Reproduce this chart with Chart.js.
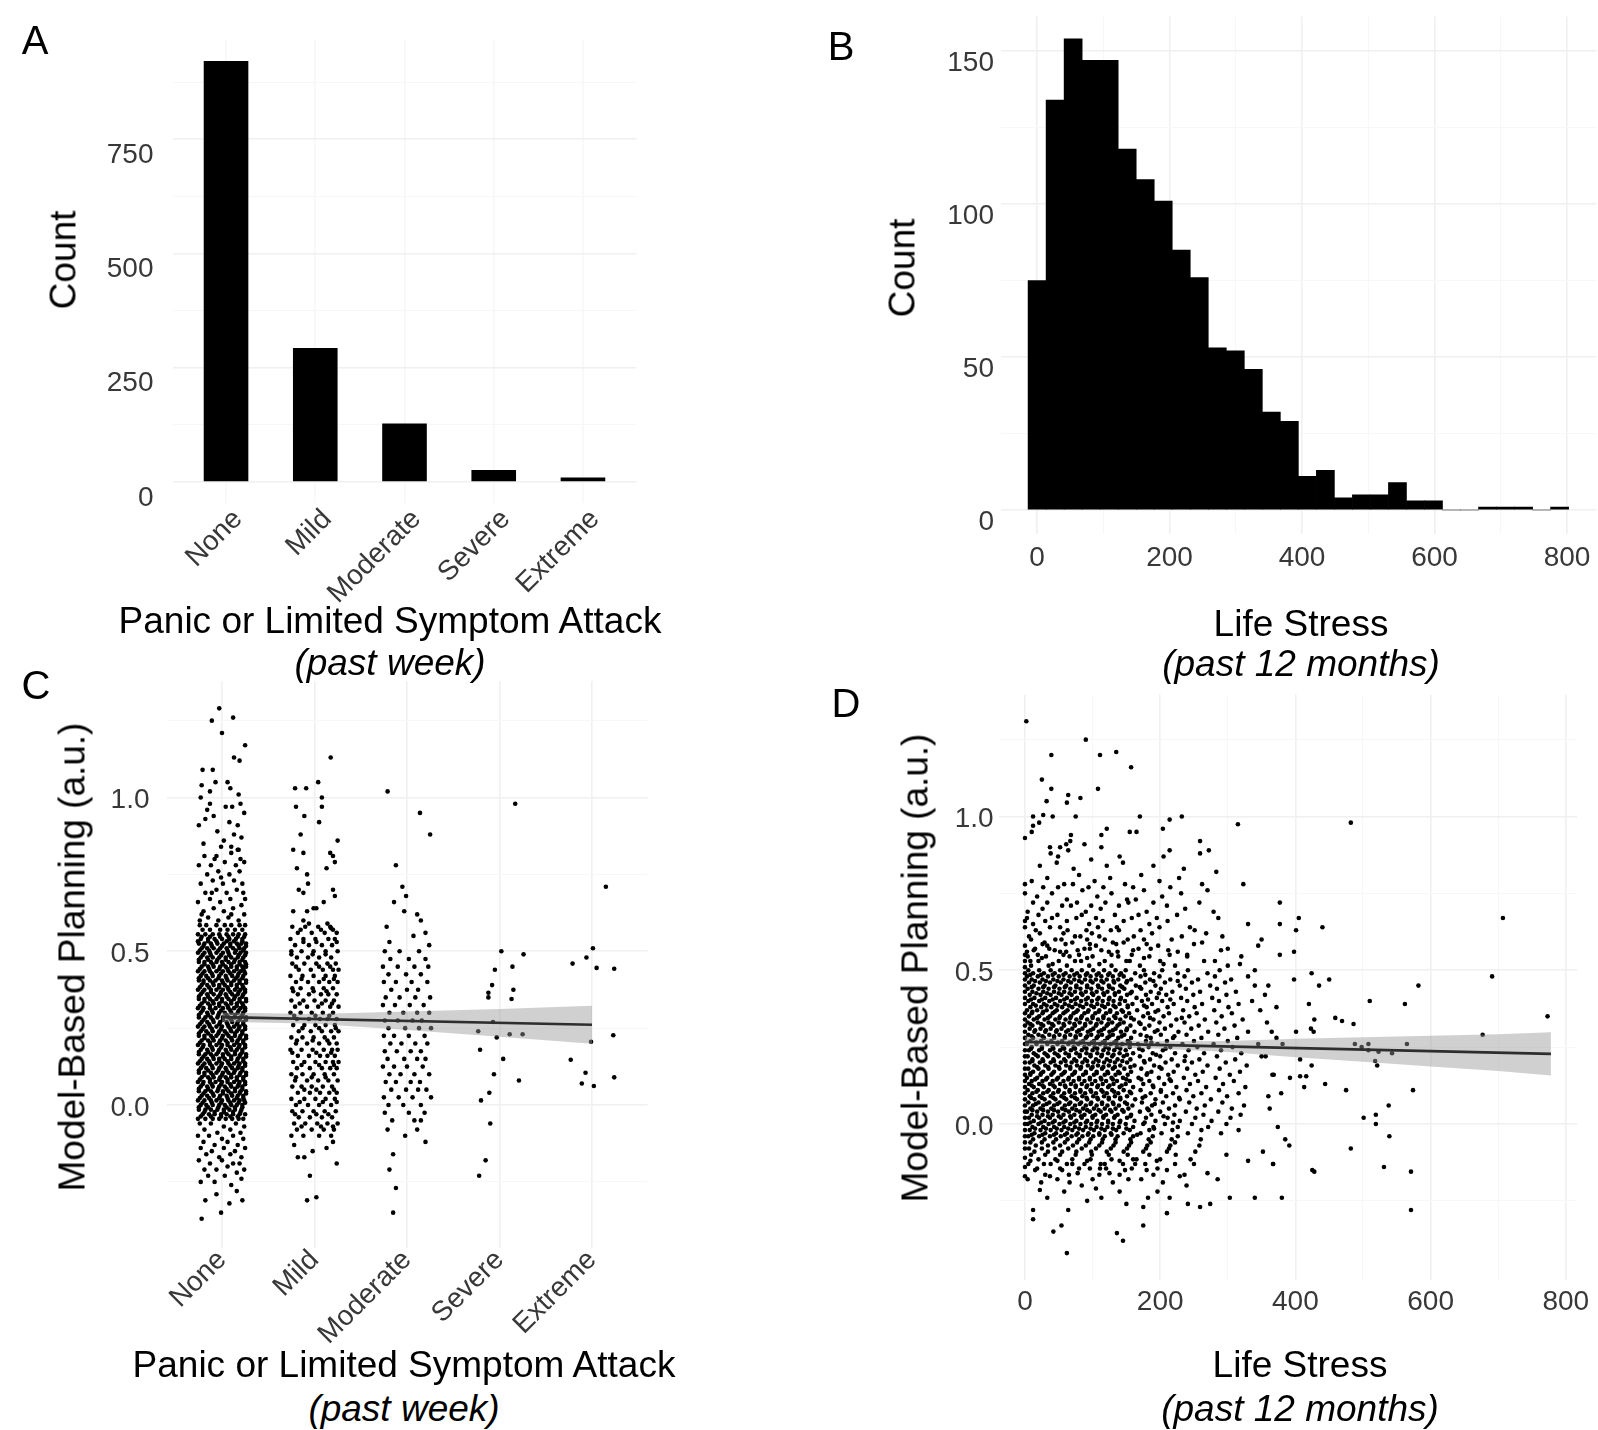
<!DOCTYPE html>
<html>
<head>
<meta charset="utf-8">
<title>Panic attacks, life stress and model-based planning</title>
<script src="https://cdn.jsdelivr.net/npm/chart.js@4.4.1/dist/chart.umd.min.js"></script>
<style>
  html, body { margin: 0; padding: 0; background: #fff; }
  #fig { position: relative; width: 1598px; height: 1430px; overflow: hidden; background: #fff;
         font-family: 'Liberation Sans', Arial, Helvetica, sans-serif; color: #000; }
  #fig canvas { position: absolute; }
  .t { position: absolute; white-space: nowrap; line-height: 1; transform: translate(-50%, -50%); }
  .letter { font-size: 40px; }
  .axis { font-size: 37px; }
  .axis.it { font-style: italic; }
  .rot { transform: translate(-50%, -50%) rotate(-90deg); }
</style>
</head>
<body>
<div id="fig">
  <canvas id="panelA" width="660" height="620" style="left:0px;top:0px"></canvas>
  <canvas id="panelB" width="798" height="620" style="left:800px;top:0px"></canvas>
  <canvas id="panelC" width="660" height="700" style="left:0px;top:660px"></canvas>
  <canvas id="panelD" width="798" height="700" style="left:800px;top:660px"></canvas>

  <div class="t letter" style="left:35px;top:40px">A</div>
  <div class="t letter" style="left:841px;top:46px">B</div>
  <div class="t letter" style="left:36px;top:685px">C</div>
  <div class="t letter" style="left:846px;top:703px">D</div>

  <div class="t axis rot" style="left:63px;top:260px">Count</div>
  <div class="t axis rot" style="left:902px;top:268px">Count</div>
  <div class="t axis rot" style="left:72px;top:957px">Model-Based Planning (a.u.)</div>
  <div class="t axis rot" style="left:915px;top:968px">Model-Based Planning (a.u.)</div>

  <div class="t axis" style="left:390px;top:620px">Panic or Limited Symptom Attack</div>
  <div class="t axis it" style="left:390px;top:662px">(past week)</div>
  <div class="t axis" style="left:1301px;top:623px">Life Stress</div>
  <div class="t axis it" style="left:1301px;top:663px">(past 12 months)</div>
  <div class="t axis" style="left:404px;top:1364px">Panic or Limited Symptom Attack</div>
  <div class="t axis it" style="left:404px;top:1408px">(past week)</div>
  <div class="t axis" style="left:1300px;top:1364px">Life Stress</div>
  <div class="t axis it" style="left:1300px;top:1408px">(past 12 months)</div>
</div>

<script>
// ---------- Panel A: panic or limited symptom attack (past week) ----------
const panicLevels = ['None', 'Mild', 'Moderate', 'Severe', 'Extreme'];
const panicCounts = [921, 293, 128, 26, 10];

// ---------- Panel B: life stress histogram (30 bins) ----------
const stressBinMids = [0, 27.2, 54.4, 81.6, 108.8, 136, 163.2, 190.4, 217.6, 244.8,
  272, 299.2, 326.4, 353.6, 380.8, 408, 435.2, 462.4, 489.6, 516.8,
  544, 571.2, 598.4, 625.6, 652.8, 680, 707.2, 734.4, 761.6, 788.8];
const stressCounts = [75, 134, 154, 147, 147, 118, 108, 101, 85, 76,
  53, 52, 46, 32, 29, 11, 13, 4, 5, 5,
  9, 3, 3, 0, 0, 1, 1, 1, 0, 1];

// ---------- Panel C: planning by panic level ----------
// dense parts are kept as rows: [planning score, [horizontal jitter of each point]]
// sparse parts as [jitter, planning score]
const noneRows = [
  [.585, [-.24,-.17,-.06,.03,.10,.19,.25]],
  [.57, [-.21,-.13,-.02,.06,.14,.22]],
  [.555, [-.26,-.18,-.10,-.03,.05,.12,.18,.25]],
  [.54, [-.23,-.15,-.08,0,.08,.15,.22]],
  [.525, [-.25,-.19,-.12,-.05,.02,.09,.16,.21,.26]],
  [.51, [-.22,-.16,-.09,-.02,.05,.12,.19,.24]],
  [.495, [-.26,-.19,-.13,-.06,.01,.07,.14,.20,.26]],
  [.48, [-.23,-.16,-.10,-.03,.04,.10,.17,.23]],
  [.465, [-.25,-.19,-.12,-.06,0,.07,.13,.19,.25]],
  [.45, [-.22,-.15,-.09,-.02,.04,.10,.16,.22,.26]],
  [.435, [-.26,-.19,-.13,-.06,.01,.07,.13,.20,.24]],
  [.42, [-.23,-.17,-.10,-.03,.04,.11,.17,.23]],
  [.405, [-.25,-.20,-.13,-.07,0,.06,.13,.19,.26]],
  [.39, [-.22,-.16,-.09,-.03,.03,.10,.16,.22]],
  [.375, [-.26,-.19,-.12,-.06,.01,.07,.14,.20,.25]],
  [.36, [-.23,-.16,-.09,-.02,.04,.11,.17,.23]],
  [.345, [-.25,-.19,-.13,-.06,0,.07,.13,.19,.26]],
  [.33, [-.22,-.15,-.09,-.03,.04,.10,.16,.22]],
  [.315, [-.26,-.20,-.13,-.07,.01,.07,.13,.20,.25]],
  [.30, [-.23,-.16,-.10,-.03,.03,.10,.17,.23]],
  [.285, [-.25,-.18,-.12,-.05,.01,.07,.14,.20,.26]],
  [.27, [-.22,-.16,-.09,-.02,.05,.11,.17,.23]],
  [.255, [-.26,-.19,-.13,-.06,0,.07,.13,.19,.25]],
  [.24, [-.23,-.17,-.10,-.03,.03,.10,.16,.22]],
  [.225, [-.25,-.19,-.12,-.06,.01,.07,.14,.20,.26]],
  [.21, [-.22,-.15,-.09,-.02,.04,.11,.17,.23]],
  [.195, [-.26,-.20,-.13,-.06,0,.06,.13,.19,.25]],
  [.18, [-.23,-.16,-.10,-.03,.04,.10,.16,.22]],
  [.165, [-.25,-.18,-.12,-.06,.01,.07,.14,.20,.26]],
  [.15, [-.22,-.16,-.09,-.03,.03,.10,.17,.23]],
  [.135, [-.26,-.19,-.13,-.06,0,.07,.13,.19,.25]],
  [.12, [-.23,-.17,-.10,-.03,.04,.11,.17,.22]],
  [.105, [-.25,-.19,-.12,-.06,.01,.07,.13,.20,.26]],
  [.09, [-.22,-.15,-.09,-.02,.04,.10,.16,.23]],
  [.075, [-.26,-.20,-.13,-.07,0,.06,.13,.19,.25]],
  [.06, [-.23,-.16,-.10,-.03,.03,.10,.17,.22]],
  [.045, [-.25,-.18,-.12,-.05,.01,.07,.14,.20,.26]],
  [.03, [-.22,-.16,-.09,-.02,.05,.11,.17,.23]],
  [.015, [-.26,-.19,-.12,-.06,0,.07,.13,.19,.24]],
  [0, [-.23,-.17,-.10,-.03,.03,.10,.16,.22]],
  [-.015, [-.25,-.18,-.12,-.05,.02,.08,.14,.21]],
  [-.03, [-.21,-.14,-.08,-.01,.05,.12,.19,.25]],
  [-.045, [-.26,-.18,-.10,-.03,.04,.11,.18,.23]],
  [.5475, [-.22,-.13,-.02,.07,.17,.24]],
  [.5325, [-.26,-.15,-.06,.05,.13,.22]],
  [.5175, [-.20,-.11,0,.09,.18,.26]],
  [.5025, [-.24,-.14,-.04,.06,.15,.23]],
  [.4875, [-.21,-.12,-.01,.08,.18,.25]],
  [.4725, [-.25,-.15,-.05,.04,.14,.22]],
  [.4575, [-.19,-.10,.01,.10,.19,.26]],
  [.4425, [-.24,-.14,-.03,.06,.16,.23]],
  [.4275, [-.21,-.11,-.01,.09,.18,.25]],
  [.4125, [-.25,-.15,-.04,.05,.15,.22]],
  [.3975, [-.20,-.10,.01,.10,.19,.26]],
  [.3825, [-.24,-.14,-.03,.06,.16,.23]],
  [.3675, [-.21,-.12,-.01,.09,.18,.25]],
  [.3525, [-.25,-.15,-.04,.05,.14,.22]],
  [.3375, [-.19,-.10,0,.10,.19,.26]],
  [.3225, [-.24,-.13,-.03,.06,.16,.23]],
  [.3075, [-.21,-.11,-.01,.09,.18,.25]],
  [.2925, [-.25,-.15,-.04,.05,.14,.22]],
  [.2775, [-.20,-.10,.01,.10,.19,.26]],
  [.2625, [-.24,-.14,-.03,.06,.16,.23]],
  [.2475, [-.21,-.11,-.01,.09,.18,.25]],
  [.2325, [-.25,-.15,-.04,.05,.14,.22]],
  [.2175, [-.19,-.10,0,.10,.19,.26]],
  [.2025, [-.24,-.13,-.03,.06,.16,.23]],
  [.1875, [-.21,-.11,-.01,.09,.18,.25]],
  [.1725, [-.25,-.15,-.04,.05,.14,.22]],
  [.1575, [-.20,-.10,.01,.10,.19,.26]],
  [.1425, [-.24,-.14,-.03,.06,.16,.23]],
  [.1275, [-.21,-.11,-.01,.09,.18,.25]],
  [.1125, [-.25,-.15,-.04,.05,.14,.22]],
  [.0975, [-.19,-.10,0,.10,.19,.26]],
  [.0825, [-.24,-.13,-.03,.06,.16,.23]],
  [.0675, [-.21,-.11,-.01,.09,.18,.25]],
  [.0525, [-.25,-.15,-.04,.05,.14,.22]],
  [.0375, [-.20,-.10,.01,.10,.19,.26]],
  [.0225, [-.24,-.14,-.03,.06,.16,.23]],
  [.0075, [-.21,-.11,-.01,.09,.18,.25]],
  [-.0075, [-.25,-.15,-.04,.05,.14,.22]],
  [-.0225, [-.19,-.08,.02,.12,.20]],
  [-.0375, [-.23,-.12,-.01,.09,.17]]
];
const noneSparse = [
  [-.24,.60],[-.15,.61],[-.04,.60],[.07,.61],[.18,.60],[.24,.62],[-.20,.63],[-.09,.64],[.02,.63],[.12,.64],
  [.21,.65],[-.26,.66],[-.13,.67],[-.02,.66],[.09,.67],[.25,.67],[-.18,.69],[-.06,.70],[.05,.69],[.16,.70],
  [-.23,.72],[-.10,.73],[.01,.72],[.13,.73],[.22,.72],[-.16,.75],[-.04,.76],[.08,.75],[.19,.76],[-.25,.78],
  [-.12,.78],[.03,.79],[.15,.78],[.24,.79],[-.19,.81],[-.06,.81],[.10,.82],[.20,.80],[-.22,.62],[.10,.62],
  [-.11,.69],[.23,.69],[-.01,.74],[-.08,.80],[.17,.83],
  [-.03,1.29],[-.11,1.25],[.12,1.26],[0,1.21],[.25,1.17],[.13,1.13],[.19,1.12],[-.21,1.09],[-.10,1.09],
  [-.22,1.04],[-.07,1.05],[.06,1.05],[.09,1.03],[-.13,1.02],[.18,1.01],[-.23,1.00],[.20,.98],[-.13,.98],
  [.11,.97],[-.16,.96],[-.09,.94],[-.25,.91],[.08,.92],[.17,.91],[.13,.88],[.21,.87],[.02,.86],[-.01,.84],
  [.10,.84],[.18,.83],[-.20,.85],[-.05,.89],[.24,.95],[-.18,.93],[.04,.97],
  [-.24,-.06],[-.12,-.06],[.02,-.07],[.15,-.06],[.24,-.07],[-.19,-.08],[-.05,-.09],[.09,-.08],[.20,-.09],
  [-.26,-.10],[-.14,-.10],[0,-.11],[.12,-.10],[.23,-.11],[-.20,-.12],[-.08,-.13],[.06,-.12],[.17,-.13],
  [-.23,-.14],[-.11,-.15],[.02,-.14],[.14,-.15],[.25,-.14],[-.17,-.16],[-.03,-.17],[.09,-.16],[.21,-.17],
  [-.25,-.18],[-.13,-.19],[0,-.18],[.12,-.19],[.19,-.19],[-.19,-.21],[-.06,-.21],[.06,-.20],[.24,-.21],
  [-.15,-.23],[.03,-.23],[.16,-.22],[-.23,-.25],[-.08,-.25],[.10,-.26],[.21,-.24],
  [-.18,-.31],[.16,-.28],[-.06,-.29],[.22,-.31],[-.22,-.37],[-.01,-.35],[.08,-.32]
];
const mildRows = [
  [.58, [-.24,-.10,.04,.17]], [.56, [-.18,-.03,.11,.24]], [.54, [-.26,-.12,.01,.15,.22]],
  [.52, [-.21,-.06,.08,.19]], [.50, [-.25,-.14,-.01,.12,.25]], [.48, [-.19,-.07,.05,.18]],
  [.46, [-.24,-.11,.02,.14,.23]], [.44, [-.17,-.04,.09,.20,.26]], [.42, [-.26,-.13,-.01,.12,.22]],
  [.40, [-.20,-.07,.05,.16,.25]], [.38, [-.24,-.15,-.02,.10,.20]], [.36, [-.18,-.06,.07,.15,.24]],
  [.34, [-.25,-.12,0,.12,.21]], [.32, [-.21,-.08,.04,.17,.26]], [.30, [-.26,-.15,-.03,.09,.20]],
  [.28, [-.19,-.06,.06,.14,.24]], [.26, [-.23,-.11,.01,.12,.22]], [.24, [-.17,-.04,.08,.18,.26]],
  [.22, [-.25,-.13,-.01,.11,.21]], [.20, [-.20,-.08,.05,.16,.24]], [.18, [-.26,-.14,-.02,.10,.19,.25]],
  [.16, [-.18,-.06,.06,.14,.22]], [.14, [-.23,-.11,.01,.12,.20,.26]], [.12, [-.19,-.05,.08,.17,.24]],
  [.10, [-.25,-.13,-.01,.11,.21]], [.08, [-.21,-.08,.04,.15,.25]], [.06, [-.24,-.14,-.03,.09,.19]],
  [.04, [-.18,-.05,.06,.16,.24]], [.02, [-.25,-.11,.01,.12,.22]], [0, [-.20,-.07,.05,.18]],
  [-.02, [-.24,-.13,-.01,.11,.23]], [-.04, [-.17,-.05,.08,.19]], [-.06, [-.22,-.10,.03,.14,.25]],
  [-.08, [-.19,-.03,.10,.21]], [-.10, [-.25,-.12,.05,.18]],
  [.57, [-.15,.07,.20]], [.53, [-.12,.02,.24]], [.49, [-.25,-.02,.12]], [.45, [-.20,.05,.17]],
  [.41, [-.14,.10,.21]], [.37, [-.23,-.01,.13]], [.33, [-.16,.08,.19]], [.29, [-.22,.01,.16]],
  [.25, [-.13,.05,.23]], [.21, [-.19,-.02,.14]], [.17, [-.24,.02,.18]], [.13, [-.14,.05,.21]],
  [.09, [-.20,-.03,.12]], [.05, [-.11,.02,.21]], [.01, [-.16,.09,.24]], [-.03, [-.21,.02,.15]],
  [-.07, [-.14,.07,.20]]
];
const mildSparse = [
  [-.23,.83],[-.12,.82],[.17,.82],[.20,.81],[.22,.79],[-.19,.77],[-.08,.75],[.13,.77],[-.17,.70],[-.12,.69],
  [-.07,.72],[.20,.70],[.22,.68],[.10,.66],[-.01,.64],[-.08,.63],[.02,.64],[-.23,.63],[-.12,.60],[-.06,.59],
  [.14,.59],[.18,.575],
  [.175,1.13],[-.21,1.03],[-.09,1.03],[.04,1.05],[.08,1.0],[.08,.97],[-.20,.97],[-.11,.94],[.05,.92],
  [-.15,.88],[.25,.86],
  [-.08,-.31],[.02,-.30],[-.05,-.23],[-.18,-.17],[-.11,-.17],[.13,-.14],[-.22,-.13],[.20,-.12],
  [-.02,-.15],[.24,-.19]
];
const moderateRows = [
  [.50, [-.24,-.08,.13]], [.475, [-.18,.02,.20]], [.45, [-.26,-.10,.08,.23]], [.425, [-.20,-.01,.15]],
  [.40, [-.25,-.12,.05,.22]], [.375, [-.17,0,.12]], [.35, [-.23,-.08,.09,.25]], [.325, [-.26,-.13,.03,.18]],
  [.30, [-.19,-.04,.11,.24]], [.275, [-.24,-.10,.06,.16]], [.25, [-.20,-.02,.13,.26]],
  [.225, [-.25,-.14,.02,.19]], [.20, [-.18,-.06,.09,.22]], [.175, [-.24,-.11,.04,.15]],
  [.15, [-.21,-.03,.11,.20]], [.125, [-.26,-.14,0,.17]], [.10, [-.19,-.07,.08,.24]],
  [.075, [-.23,-.12,.04,.14]], [.05, [-.17,-.01,.12,.21]], [.025, [-.25,-.09,.06,.26]],
  [0, [-.20,-.04,.15]], [-.025, [-.24,.02,.19]], [-.05, [-.16,.08]]
];
const moderateSparse = [
  [-.21,1.02],[.14,.95],[.25,.88],[-.12,.78],[-.05,.71],[-.01,.68],[.11,.62],[.15,.60],[-.22,.58],
  [-.19,.53],[.24,.52],[-.03,.63],[.20,.56],[-.14,.66],[.07,.55],
  [-.21,-.08],[-.15,-.16],[.11,-.08],[.15,-.05],[-.19,-.21],[-.12,-.27],[-.15,-.35],[.20,-.12],[-.02,-.10]
];
const severePoints = [
  [.17,.98],[.02,.50],[.26,.49],[-.05,.44],[.14,.45],[-.08,.39],[-.12,.365],[-.12,.35],[.15,.375],
  [.13,.345],[-.07,.27],[-.23,.24],[-.03,.22],[.11,.23],[.25,.23],[-.21,.18],[.04,.15],[-.06,.10],
  [.21,.08],[-.11,.04],[-.20,.015],[-.10,-.06],[-.15,-.18],[-.22,-.23]
];
const extremePoints = [
  [.15,.71],[.01,.51],[-.06,.48],[-.21,.46],[.05,.446],[.24,.443],[.23,.227],[-.01,.206],[-.23,.147],
  [.24,.09],[-.07,.105],[-.11,.07],[.02,.062]
];
// linear fit and its confidence band, read at each panic level
const panicFitX = [0, 4];
const panicFitY = [.286, .261];
const panicBandX = [0, 1, 2, 3, 4];
const panicBandHi = [.301, .296, .304, .312, .323];
const panicBandLo = [.271, .264, .244, .222, .199];

// ---------- Panel D: planning vs life stress ----------
const stressZeroY = [.78,.75,.66,.64,.58,.55,.53,.51,.49,.47,.45,.43,.41,.39,.36,.34,.32,.30,.28,.26,
  .24,.22,.20,.18,.16,.14,.12,.10,.08,.06,.04,.02,0,-.02,-.04,-.06,-.08,-.11,-.14,-.17];
// rows: [planning score, [life stress of each point]]
const stressRows = [
  [.585, [26,60,96,135,180,250]],
  [.565, [13,44,78,113,160,212,290]],
  [.545, [4,31,66,100,138,184,240,320]],
  [.53, [20,50,83,118,155,200,265]],
  [.515, [9,35,62,95,128,170,222,300]],
  [.50, [5,21,38,52,69,84,101,117,134,149,176,203,241,288]],
  [.49, [12,28,44,60,77,92,109,125,142,163,191,226,270]],
  [.48, [3,19,34,50,66,81,97,113,130,146,171,199,236,281,330]],
  [.47, [10,26,42,57,73,89,105,121,138,157,185,215,256,305]],
  [.46, [6,22,37,53,68,84,100,116,132,150,178,207,247,296]],
  [.45, [13,29,45,61,76,92,108,124,141,164,193,229,274,340]],
  [.44, [4,20,35,51,67,82,98,114,130,147,172,201,238,284]],
  [.43, [11,27,43,58,74,90,106,122,139,158,186,218,259,312]],
  [.42, [7,23,38,54,69,85,101,117,133,151,179,209,249,298,355]],
  [.41, [14,30,46,62,77,93,109,125,142,165,195,231,277]],
  [.40, [5,21,36,52,68,83,99,115,131,148,173,203,240,287,336]],
  [.39, [12,28,44,59,75,91,107,123,140,159,188,220,262,316]],
  [.38, [8,24,39,55,70,86,102,118,134,152,180,211,251,301]],
  [.37, [3,18,32,47,63,78,94,110,126,143,166,197,234,280,348]],
  [.36, [10,26,41,57,72,88,104,120,136,154,182,213,254,306]],
  [.35, [6,21,37,52,68,84,100,116,132,149,175,205,243,291]],
  [.34, [13,29,45,60,76,92,108,124,141,161,190,224,266,322]],
  [.33, [4,19,35,50,66,81,97,113,129,146,169,199,236,283,358]],
  [.32, [11,27,42,58,74,89,105,121,137,156,184,216,257,310]],
  [.31, [7,23,38,54,70,85,101,117,134,151,177,207,246,295]],
  [.30, [14,30,46,61,77,93,109,125,142,162,192,227,271,330]],
  [.29, [5,20,36,51,67,82,98,114,130,147,171,201,239,286]],
  [.28, [12,28,43,59,75,90,106,122,138,157,186,219,261,314,372]],
  [.27, [8,24,39,55,71,86,102,118,135,152,179,210,250,300]],
  [.26, [3,17,33,48,64,79,95,111,127,144,167,196,233,279,345]],
  [.25, [10,25,41,56,72,88,103,119,136,155,183,215,255,307]],
  [.24, [6,21,37,52,68,84,100,116,132,149,174,204,242,290]],
  [.23, [13,29,44,60,76,91,107,123,140,160,189,222,265,320]],
  [.22, [4,19,34,50,65,81,97,113,129,146,170,200,237,284,350]],
  [.21, [11,26,42,58,73,89,105,121,137,156,185,217,258,311]],
  [.20, [7,22,38,53,69,85,101,117,133,151,177,208,247,297]],
  [.19, [14,30,45,61,77,93,108,124,141,162,191,226,270,328]],
  [.18, [5,20,35,51,67,82,98,114,130,147,172,202,240,288]],
  [.17, [12,27,43,59,74,90,106,122,138,157,187,220,263,318]],
  [.16, [8,23,39,54,70,86,102,118,134,152,180,212,252,303,366]],
  [.15, [3,18,33,49,65,80,96,112,128,145,168,198,235,282]],
  [.14, [10,26,41,57,72,88,104,120,136,155,184,216,256,309]],
  [.13, [6,21,37,52,68,84,99,115,131,149,175,206,244,293]],
  [.12, [13,28,44,60,75,91,107,123,140,160,190,224,268,326]],
  [.11, [4,19,35,50,66,82,97,113,129,146,171,201,239,287]],
  [.10, [11,27,42,58,74,89,105,121,138,157,186,219,261,316]],
  [.09, [7,22,38,54,69,85,101,117,133,151,178,209,249,299,360]],
  [.08, [14,29,45,61,77,92,108,124,141,163,193,229,275]],
  [.07, [5,20,36,51,67,83,98,114,130,148,173,204,243,292]],
  [.06, [12,27,43,59,74,90,106,122,139,159,188,222,266,324]],
  [.05, [8,23,39,55,70,86,102,118,134,153,181,213,254,306]],
  [.04, [3,18,34,49,65,81,96,112,128,146,170,200,238,286]],
  [.03, [10,26,41,57,73,88,104,120,137,157,187,221,264,319]],
  [.02, [6,21,37,53,68,84,100,116,132,151,179,211,252,304]],
  [.01, [13,29,44,60,76,92,107,123,141,162,193,229,276]],
  [0, [4,20,35,51,67,82,98,114,130,149,175,207,247,298]],
  [-.01, [11,27,43,58,74,90,106,122,139,160,190,226,271]],
  [-.02, [7,23,38,54,70,86,102,118,135,155,184,218,261,316]],
  [-.03, [14,30,46,62,78,94,110,127,146,171,202,241,290]],
  [-.04, [5,21,37,53,69,85,101,118,137,160,189,226]],
  [-.05, [12,29,46,63,80,97,115,134,156,183,217,260]],
  [-.06, [8,25,42,59,77,95,114,134,157,186,222]],
  [-.07, [16,34,52,71,90,110,131,154,181,215,258]],
  [-.08, [6,25,44,64,84,105,127,151,179,213]],
  [-.09, [14,34,55,76,98,121,146,175,210,252]],
  [-.10, [9,30,52,75,99,124,152,184,223]],
  [-.115, [20,45,70,97,128,160,200,245]],
  [-.13, [5,38,62,88,112,145,178,222]],
  [-.145, [18,52,80,120,158,196]],
  [-.165, [30,65,110,140,190,236]],
  // extra points in the darkest part of the cloud
  [.485, [8,24,41,57,73,90,106,123,140,178]],
  [.465, [15,31,48,64,80,97,113,131,151,190,226]],
  [.445, [10,27,43,59,76,92,109,125,144,170]],
  [.425, [17,33,50,66,83,99,116,133,156,198]],
  [.405, [9,25,41,58,74,90,107,124,141,182,215]],
  [.385, [16,32,48,65,81,98,114,131,152,176]],
  [.365, [11,27,44,60,76,93,109,126,145,193]],
  [.345, [18,34,51,67,83,100,116,134,157,185,232]],
  [.325, [8,24,40,57,73,89,106,123,140,171]],
  [.305, [15,31,47,64,80,97,113,130,150,196]],
  [.285, [10,26,43,59,75,92,108,125,143,180,221]],
  [.265, [17,33,49,66,82,99,115,132,155,187]],
  [.245, [9,25,42,58,74,91,107,124,141,169,208]],
  [.225, [16,32,48,65,81,97,114,131,151,194]],
  [.205, [11,27,43,60,76,92,109,126,144,176,236]],
  [.185, [18,34,50,67,83,100,116,133,156,199]],
  [.165, [8,24,41,57,73,90,106,123,140,181]],
  [.145, [15,31,47,64,80,96,113,130,150,172,214]],
  [.125, [10,26,42,59,75,92,108,125,143,189]],
  [.105, [17,33,49,66,82,98,115,132,155,201]],
  [.085, [9,25,42,58,74,91,107,124,141,174,228]],
  [.065, [16,32,48,65,81,97,114,131,151,192]],
  [.045, [11,27,43,60,76,92,109,126,144,183]],
  [.025, [18,34,50,67,83,100,116,133,156,205]],
  [.005, [8,24,41,57,73,90,106,123,140,177,219]],
  [-.015, [15,31,47,64,80,97,113,130,150,191]],
  [-.035, [10,26,43,59,76,93,110,128,166]]
];
// sparse points: [life stress, planning score]
const stressSparse = [
  [8,.53],[25,.54],[41,.52],[57,.55],[74,.53],[92,.54],[110,.52],[128,.55],[150,.53],[176,.54],[205,.52],
  [240,.55],[281,.53],[318,.52],[15,.57],[33,.58],[52,.56],[70,.59],[88,.57],[105,.58],[124,.56],[146,.59],
  [168,.57],[197,.58],[226,.56],[262,.59],[300,.57],[345,.58],[6,.61],[22,.62],[45,.60],[63,.63],[82,.61],
  [99,.62],[118,.60],[139,.63],[161,.61],[188,.62],[217,.60],[251,.63],[292,.61],[12,.65],[30,.66],[52,.64],
  [76,.67],[95,.65],[115,.66],[136,.64],[158,.67],[184,.65],[211,.66],[244,.64],[286,.67],[330,.65],[4,.69],
  [26,.70],[48,.68],[68,.71],[90,.69],[112,.70],[133,.68],[153,.72],[180,.69],[210,.71],[237,.70],[279,.69],
  [18,.74],[40,.75],[62,.73],[85,.76],[107,.74],[128,.75],[151,.73],[176,.76],[203,.74],[231,.75],[270,.76],
  [10,.79],[33,.80],[58,.78],[80,.81],[103,.79],[126,.80],[148,.78],[172,.81],[199,.79],[228,.80],[262,.78],
  [22,.84],[47,.85],[72,.83],[98,.86],[121,.84],[145,.85],[190,.84],[235,.83],[283,.82],[38,.88],[64,.89],
  [88,.91],[140,.87],[205,.87],
  [3,.56],[19,.55],[36,.57],[61,.56],[80,.55],[96,.57],[137,.56],[158,.55],[186,.57],[214,.55],
  [9,.60],[29,.59],[54,.60],[74,.61],[92,.60],[110,.61],[130,.59],[152,.60],[176,.60],[232,.61],
  [16,.63],[37,.64],[57,.62],[91,.63],[108,.64],[127,.63],[171,.63],[199,.64],[268,.62],
  [3,.67],[20,.68],[40,.67],[62,.66],[84,.68],[105,.67],[146,.66],[168,.68],[195,.67],[225,.68],
  [12,.72],[33,.72],[55,.71],[77,.72],[98,.71],[119,.72],[139,.71],[164,.73],[190,.72],[258,.72],
  [27,.77],[49,.77],[71,.78],[94,.77],[116,.77],[160,.77],[215,.77],
  [2,1.31],[90,1.25],[39,1.20],[111,1.20],[135,1.21],[157,1.16],[25,1.12],[108,1.09],[39,1.09],[64,1.07],
  [82,1.06],[32,1.05],[62,1.045],[12,1.0],[27,1.005],[41,1.0],[75,1.0],[0,.93],[10,.95],[170,1.0],[315,.975],
  [204,.96],[232,1.0],[214,.99],[259,.92],[272,.89],[259,.88],[214,.89],[155,.95],[165,.95],[113,.94],
  [113,.90],[121,.96],[68,.94],[52,.90],[61,.91],[49,.87],[37,.90],[67,.92],[12,.97],[21,.98],[323,.78],
  [377,.72],[377,.65],
  [405,.67],[401,.63],[440,.64],[398,.56],[398,.47],[424,.49],[435,.45],[450,.47],[420,.39],[428,.34],
  [401,.30],[423,.31],[427,.30],[459,.345],[469,.335],[486,.325],[407,.21],[424,.19],[392,.15],[407,.155],
  [416,.155],[413,.12],[444,.13],[475,.11],[391,-.07],[425,-.15],[428,-.155],[377,.55],[360,.45],[372,.38],
  [365,.30],[381,.26],[356,.22],[368,.16],[379,.10],[362,.05],[374,-.01],[385,-.05],[352,-.09],[367,-.13],
  [380,-.24],[340,-.24],[330,-.12],[298,-.10],[350,.60],[340,.50],
  [482,.98],[707,.67],[691,.48],[773,.35],[677,.29],[510,.40],[562,.39],[582,.45],[488,.26],[498,.25],
  [508,.26],[508,.24],[523,.235],[543,.23],[565,.26],[518,.205],[521,.19],[574,.11],[538,.06],[501,.02],
  [519,.03],[519,0],[539,-.04],[482,-.08],[531,-.14],[571,-.155],[571,-.28],
  [22,-.215],[12,-.28],[12,-.31],[64,-.28],[42,-.35],[54,-.33],[136,-.355],[145,-.38],[175,-.33],[175,-.27],
  [113,-.24],[182,-.24],[210,-.29],[214,-.24],[241,-.26],[259,-.27],[274,-.26],[303,-.24],[367,-.13],
  [239,-.20],[229,-.17],[204,-.19],[153,-.18],[130,-.19],[84,-.20],[66,-.19],[37,-.17],[96,-.145],
  [111,-.145],[180,-.15],[163,-.13],[8,-.12],[28,-.13],[48,-.12],[70,-.13],[92,-.12],[118,-.13],[140,-.12],
  [165,-.115],[195,-.12],[250,-.13],[15,-.15],[55,-.15],[78,-.16],[125,-.16],[148,-.15],[210,-.15],
  [270,-.16],[4,-.18],[24,-.19],[48,-.18],[100,-.18],[172,-.18],[285,-.18],[58,-.22],[105,-.21],[140,-.22],
  [196,-.22],[33,-.24],[92,-.25],[150,-.26],[62,-.42]
];
const stressFitX = [0, 778];
const stressFitY = [.267, .228];
const stressBandX = [0, 100, 200, 300, 400, 500, 600, 700, 778];
const stressBandHi = [.283, .274, .269, .270, .277, .282, .287, .292, .298];
const stressBandLo = [.251, .250, .245, .234, .217, .202, .187, .172, .158];

// ---------- shared styling ----------
const FONT = "'Liberation Sans', Arial, Helvetica, sans-serif";
const TICK_COLOR = '#383838';
const GRID_MAJOR = '#f0f0f0';
const GRID_MINOR = '#f7f7f7';
Chart.defaults.font.family = FONT;
Chart.defaults.color = TICK_COLOR;

const baseOptions = (pad) => ({
  responsive: false,
  animation: false,
  devicePixelRatio: 1,
  events: [],
  layout: { padding: pad },
  plugins: { legend: { display: false }, tooltip: { enabled: false } }
});

// fixed axis box; drop the label overhang padding so the plot area lands where it should
function fixBox(size, horizontal) {
  return s => {
    if (horizontal) s.height = size; else s.width = size;
    s.paddingTop = 0; s.paddingBottom = 0; s.paddingLeft = 0; s.paddingRight = 0;
  };
}

// continuous axis with labelled major ticks and unlabelled minor grid lines
function contAxis(cfg) {
  const majors = cfg.majors, all = cfg.majors.concat(cfg.minors).sort((a, b) => a - b);
  return {
    type: 'linear', min: cfg.min, max: cfg.max, offset: false,
    border: { display: false },
    grid: {
      drawTicks: false, offset: false,
      color: c => majors.includes(c.tick.value) ? GRID_MAJOR : GRID_MINOR,
      lineWidth: c => majors.includes(c.tick.value) ? 1.6 : 1
    },
    ticks: {
      autoSkip: false, maxRotation: 0, minRotation: 0,
      padding: cfg.padding, labelOffset: cfg.labelOffset || 0,
      font: { size: 28 }, color: TICK_COLOR,
      callback: v => majors.includes(v) ? cfg.fmt(v) : ''
    },
    afterBuildTicks: s => { s.ticks = all.map(v => ({ value: v })); },
    afterFit: cfg.width ? fixBox(cfg.width, false) : fixBox(cfg.height, true)
  };
}

// panic levels on a numeric axis so the scatter can be jittered
function panicAxis(height, padding, labelOffset, gridColor) {
  return {
    type: 'linear', min: -0.6, max: 4.6, offset: false,
    border: { display: false },
    grid: { drawTicks: false, offset: false, color: gridColor, lineWidth: 1.6 },
    ticks: {
      autoSkip: false, minRotation: 45, maxRotation: 45,
      padding: padding, labelOffset: labelOffset,
      font: { size: 28 }, color: TICK_COLOR,
      callback: v => panicLevels[v]
    },
    afterBuildTicks: s => { s.ticks = panicLevels.map((_, i) => ({ value: i })); },
    afterFit: fixBox(height, true)
  };
}

const expandRows = (rows) => rows.flatMap(([y, xs]) => xs.map(x => [x, y]));
const toXY = (xs, ys) => xs.map((x, i) => ({ x: x, y: ys[i] }));

function fitDatasets(fitX, fitY, bandX, bandHi, bandLo) {
  return [
    { type: 'line', data: toXY(fitX, fitY), borderColor: '#2e2e2e', borderWidth: 2.6,
      pointRadius: 0, fill: false, order: 0 },
    { type: 'line', data: toXY(bandX, bandHi), borderWidth: 0, pointRadius: 0,
      backgroundColor: 'rgba(150,150,150,0.45)', fill: '+1', order: 1 },
    { type: 'line', data: toXY(bandX, bandLo), borderWidth: 0, pointRadius: 0, fill: false, order: 1 }
  ];
}

const dotStyle = { pointRadius: 2.3, pointBackgroundColor: '#000', pointBorderWidth: 0, showLine: false, order: 3 };

// ---------- Panel A ----------
new Chart(document.getElementById('panelA'), {
  type: 'bar',
  data: {
    datasets: [{
      data: panicCounts.map((c, i) => ({ x: i, y: c })),
      backgroundColor: '#000', borderWidth: 0,
      barPercentage: 0.5, categoryPercentage: 1
    }]
  },
  options: Object.assign(baseOptions({ left: 0, right: 23.5, top: 40, bottom: 0 }), {
    scales: {
      x: panicAxis(117, 0, 12, '#f7f7f7'),
      y: contAxis({ min: -46, max: 967, majors: [0, 250, 500, 750], minors: [125, 375, 625, 875],
        fmt: v => String(v), padding: 19, labelOffset: 16, width: 172.5 })
    }
  })
});

// ---------- Panel B ----------
new Chart(document.getElementById('panelB'), {
  type: 'bar',
  data: {
    datasets: [{
      data: stressBinMids.map((m, i) => ({ x: m, y: stressCounts[i] })),
      backgroundColor: '#000', borderWidth: 0,
      barPercentage: 1, categoryPercentage: 1
    }]
  },
  options: Object.assign(baseOptions({ left: 0, right: 1.5, top: 16.5, bottom: 0 }), {
    scales: {
      x: contAxis({ min: -54.5, max: 844.5, majors: [0, 200, 400, 600, 800], minors: [100, 300, 500, 700],
        fmt: v => String(v), padding: 8, height: 86.4 }),
      y: contAxis({ min: -7.7, max: 161.3, majors: [0, 50, 100, 150], minors: [25, 75, 125],
        fmt: v => String(v), padding: 7, labelOffset: 12, width: 201 })
    }
  })
});

// ---------- Panel C ----------
const panicGroups = [
  expandRows(noneRows).concat(noneSparse),
  expandRows(mildRows).concat(mildSparse),
  expandRows(moderateRows).concat(moderateSparse),
  severePoints,
  extremePoints
];
const panicPoints = panicGroups.flatMap((pts, level) => pts.map(([j, y]) => ({ x: level + j, y: y })));

new Chart(document.getElementById('panelC'), {
  type: 'scatter',
  data: {
    datasets: fitDatasets(panicFitX, panicFitY, panicBandX, panicBandHi, panicBandLo).concat([
      Object.assign({ data: panicPoints }, dotStyle)
    ])
  },
  options: Object.assign(baseOptions({ left: 0, right: 12.5, top: 21, bottom: 0 }), {
    scales: {
      x: panicAxis(112.3, -4, 0, GRID_MAJOR),
      y: contAxis({ min: -0.464, max: 1.379, majors: [0, 0.5, 1], minors: [-0.25, 0.25, 0.75, 1.25],
        fmt: v => v.toFixed(1), padding: 17, labelOffset: 3, width: 166.5 })
    }
  })
});

// ---------- Panel D ----------
const stressPoints = stressZeroY.map(y => ({ x: 0, y: y }))
  .concat(expandRows(stressRows).concat(stressSparse).map(([x, y]) => ({ x: x, y: y })));

new Chart(document.getElementById('panelD'), {
  type: 'scatter',
  data: {
    datasets: fitDatasets(stressFitX, stressFitY, stressBandX, stressBandHi, stressBandLo).concat([
      Object.assign({ data: stressPoints }, dotStyle)
    ])
  },
  options: Object.assign(baseOptions({ left: 0, right: 20.7, top: 34.6, bottom: 0 }), {
    scales: {
      x: contAxis({ min: -39, max: 817, majors: [0, 200, 400, 600, 800], minors: [100, 300, 500, 700],
        fmt: v => String(v), padding: 6, height: 80.3 }),
      y: contAxis({ min: -0.5065, max: 1.3965, majors: [0, 0.5, 1], minors: [-0.25, 0.25, 0.75, 1.25],
        fmt: v => v.toFixed(1), padding: 5, labelOffset: 3, width: 198.6 })
    }
  })
});
</script>
</body>
</html>
